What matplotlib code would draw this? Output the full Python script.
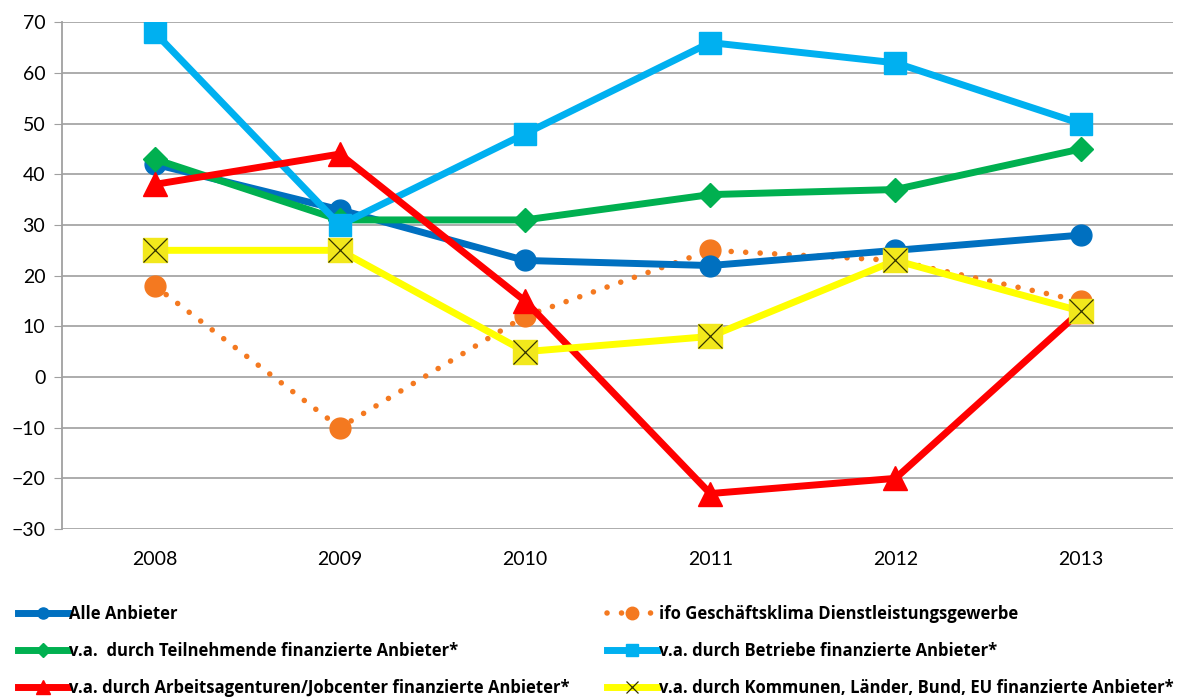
import matplotlib.pyplot as plt
from matplotlib.lines import Line2D

# data
years = ["2008", "2009", "2010", "2011", "2012", "2013"]
alle = [42, 33, 23, 22, 25, 28]
ifo = [18, -10, 12, 25, 23, 15]
teilnehmende = [43, 31, 31, 36, 37, 45]
betriebe = [68, 30, 48, 66, 62, 50]
arbeitsagenturen = [38, 44, 15, -23, -20, 13]
kommunen = [25, 25, 5, 8, 23, 13]

labels = [
    "Alle Anbieter",
    "ifo Geschäftsklima Dienstleistungsgewerbe",
    "v.a.  durch Teilnehmende finanzierte Anbieter*",
    "v.a. durch Betriebe finanzierte Anbieter*",
    "v.a. durch Arbeitsagenturen/Jobcenter finanzierte Anbieter*",
    "v.a. durch Kommunen, Länder, Bund, EU finanzierte Anbieter*",
]

plt.rcParams['font.family'] = ['Lato', 'DejaVu Sans']

fig = plt.figure(figsize=(11.86, 6.97), dpi=100)
ax = fig.add_axes([0.0523, 0.241, 0.937, 0.727])

x = list(range(len(years)))
lw = 5

ax.plot(x, ifo, color='#F47920', lw=4, linestyle=(0, (0.01, 2.6)),
        dash_capstyle='round', marker='o', markersize=15, zorder=3)
ax.plot(x, alle, color='#0070C0', lw=lw, marker='o', markersize=15, zorder=4)
ax.plot(x, teilnehmende, color='#00B050', lw=lw, marker='D', markersize=12, zorder=5)
ax.plot(x, betriebe, color='#00B0F0', lw=lw, marker='s', markersize=16, zorder=6)
ax.plot(x, arbeitsagenturen, color='#FF0000', lw=lw, marker='^', markersize=17, zorder=7)
ax.plot(x, kommunen, color='#FFFF00', lw=lw, marker='s', markersize=17,
        markerfacecolor='#F2E81C', markeredgecolor='#F2E81C', zorder=8)
ax.plot(x, kommunen, linestyle='none', marker='x', markersize=17,
        markeredgecolor='#333300', markeredgewidth=0.9, zorder=9)

ax.set_xlim(-0.5, 5.5)
ax.set_ylim(-30, 70)
ax.set_yticks(range(-30, 71, 10))
ax.set_xticks(x)
ax.set_xticklabels(years)
ax.tick_params(axis='y', length=6, color='#A0A0A0', labelsize=14, pad=6)
ax.tick_params(axis='x', length=0, labelsize=14, pad=16)
ax.grid(axis='y', color='#A6A6A6', lw=1.3)
ax.set_axisbelow(True)
for side in ['top', 'right', 'bottom']:
    ax.spines[side].set_visible(False)
ax.spines['left'].set_color('#A0A0A0')
ax.spines['left'].set_linewidth(1.3)

# legend handles
h_alle = Line2D([], [], color='#0070C0', lw=lw, marker='o', markersize=8)
h_ifo = Line2D([], [], color='#F47920', lw=4, linestyle=(0, (0.01, 2.6)),
               dash_capstyle='round', marker='o', markersize=9)
h_teil = Line2D([], [], color='#00B050', lw=lw, marker='D', markersize=7)
h_betr = Line2D([], [], color='#00B0F0', lw=lw, marker='s', markersize=9)
h_arb = Line2D([], [], color='#FF0000', lw=lw, marker='^', markersize=10)
h_komm = Line2D([], [], color='#FFFF00', lw=lw, marker='x', markersize=9,
                markeredgecolor='#333300', markeredgewidth=0.9)

leg_kw = dict(frameon=False,
              prop={'family': 'Open Sans', 'weight': 'bold', 'size': 12},
              handlelength=3.0, handletextpad=0.1, labelspacing=1.14,
              borderaxespad=0, borderpad=0)
fig.legend([h_alle, h_teil, h_arb], [labels[0], labels[2], labels[4]],
           loc='upper left', bbox_to_anchor=(0.015, 0.132), **leg_kw)
fig.legend([h_ifo, h_betr, h_komm], [labels[1], labels[3], labels[5]],
           loc='upper left', bbox_to_anchor=(0.512, 0.132), **leg_kw)

fig.savefig('out.png', dpi=100)
